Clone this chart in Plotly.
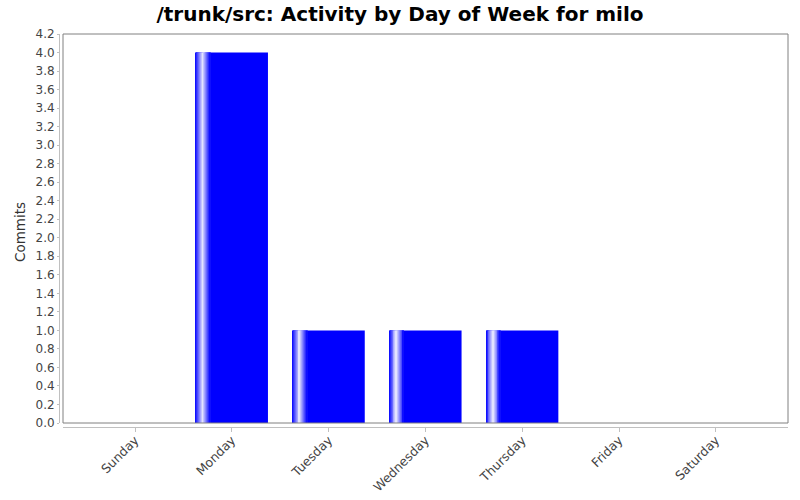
import plotly.graph_objects as go

# data
days = ["Sunday", "Monday", "Tuesday", "Wednesday", "Thursday", "Friday", "Saturday"]
commits = [0, 4, 1, 1, 1, 0, 0]
y_ticks = [round(i * 0.2, 1) for i in range(22)]

bar_w = 0.745          # bar width in category units
n_strips = 16          # strips for the glossy band on the left side of each bar
band = 0.2 * bar_w

fig = go.Figure()

# solid bar
fig.add_trace(go.Bar(
    x=days, y=commits, width=bar_w,
    marker=dict(color="rgb(0,0,255)", line=dict(width=0)),
    hoverinfo="skip", showlegend=False,
))

# gradient band: blue -> white -> blue over the first 20% of the bar
sw = band / n_strips
for i in range(n_strips):
    t = (i + 0.5) / n_strips * 0.2
    mix = t / 0.1 if t < 0.1 else (0.2 - t) / 0.1
    c = "rgb(%d,%d,255)" % (int(255 * mix * 0.95), int(255 * mix * 0.95))
    fig.add_trace(go.Bar(
        x=days, y=commits, width=sw * 1.05, offset=-bar_w / 2 + i * sw,
        marker=dict(color=c, line=dict(width=0)),
        hoverinfo="skip", showlegend=False,
    ))

W, H = 800, 500
ml, mr, mt, mb = 59, 12, 34, 73
pw = W - ml - mr
ph = H - mt - mb
gap = 4

fig.update_layout(
    width=W, height=H,
    barmode="overlay",
    paper_bgcolor="white", plot_bgcolor="white",
    margin=dict(l=ml, r=mr, t=mt, b=mb, pad=0, autoexpand=False),
    font=dict(family="DejaVu Sans", color="#444444"),
    title=dict(
        text="<b>/trunk/src: Activity by Day of Week for milo</b>",
        font=dict(family="DejaVu Sans", size=20, color="black"),
        x=0.5, xref="container", xanchor="center",
        y=1 - 14 / H, yref="container", yanchor="middle",
    ),
    xaxis=dict(
        domain=[gap / pw, 1], anchor="free", position=0, automargin=False,
        type="category", range=[-0.745, 6.745],
        showgrid=False, zeroline=False,
        showline=True, linecolor="#c0c0c0", linewidth=1,
        ticks="outside", ticklen=4, tickcolor="#c0c0c0",
        tickangle=-45, tickfont=dict(size=12.5, color="#444444"),
        ticklabelstandoff=-4,
    ),
    yaxis=dict(
        domain=[gap / ph, 1], anchor="free", position=0, automargin=False,
        range=[0, 4.2], tickvals=y_ticks,
        ticktext=["%.1f" % v for v in y_ticks],
        showgrid=False, zeroline=False,
        showline=True, linecolor="#c0c0c0", linewidth=1,
        ticks="outside", ticklen=2, tickcolor="#c0c0c0",
        tickfont=dict(size=12, color="#444444"),
    ),
    annotations=[dict(
        text="Commits", textangle=-90, showarrow=False,
        xref="paper", yref="paper",
        x=(20 - ml) / pw, y=(H - mb - 232) / ph,
        xanchor="center", yanchor="middle",
        font=dict(size=13.5, color="#333333"),
    )],
    shapes=[dict(
        type="rect", xref="x domain", yref="y domain",
        x0=0, x1=1, y0=0, y1=1,
        line=dict(color="#808080", width=1), fillcolor="rgba(0,0,0,0)",
        layer="above",
    )],
)

# page body has a default 8px margin; drop it so the chart sits at 0,0
fig.write_html("out.html", config={"displayModeBar": False},
               post_script="document.body.style.margin='0';")
